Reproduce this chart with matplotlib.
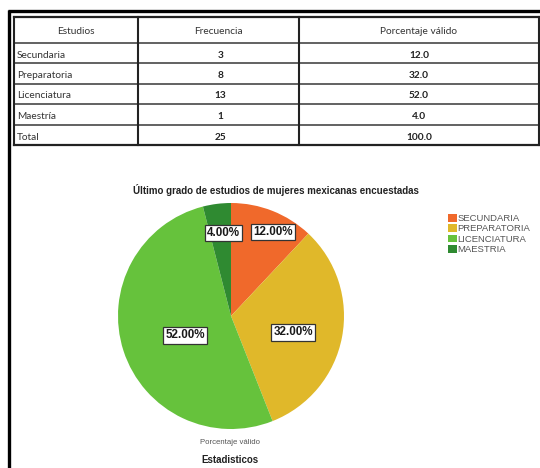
import matplotlib
matplotlib.use('Agg')
import matplotlib.pyplot as plt
import numpy as np

# datos de la tabla / grafica
estudios = ['Secundaria', 'Preparatoria', 'Licenciatura', 'Maestría']
frecuencia = [3, 8, 13, 1]
porcentaje = [12.0, 32.0, 52.0, 4.0]
total_frec = 25
total_pct = 100.0
leyenda = ['SECUNDARIA', 'PREPARATORIA', 'LICENCIATURA', 'MAESTRIA']
colores = ['#f0692b', '#e0b82a', '#66c23c', '#2f8a31']

titulo = 'Último grado de estudios de mujeres mexicanas encuestadas'

W, H = 540, 468
fig = plt.figure(figsize=(W / 100, H / 100), dpi=100)
fig.patch.set_facecolor('white')

# capa de fondo en pixeles
bg = fig.add_axes([0, 0, 1, 1])
bg.set_xlim(0, W)
bg.set_ylim(H, 0)
bg.axis('off')

# marco exterior
bg.plot([8.5, 8.5], [10, H], color='black', lw=2.4, solid_capstyle='butt')
bg.plot([7.5, W], [11, 11], color='black', lw=2.4, solid_capstyle='butt')

# tabla
x0, x1, x2, x3 = 14, 138, 299, 539
ys = [17, 43, 63, 84, 104, 125, 145]
for y in ys[1:-1]:
    bg.plot([x0, x3], [y, y], color='#555555', lw=1.3)
bg.plot([x0, x3], [ys[0], ys[0]], color='#222222', lw=1.6)
bg.plot([x0, x3], [ys[-1], ys[-1]], color='#222222', lw=1.6)
for x in [x0, x1, x2, x3]:
    bg.plot([x, x], [ys[0], ys[-1]], color='#222222', lw=1.5)

tfont = 'Lato'
tcol = '#333333'
fs = 7.3
bg.text((x0 + x1) / 2, (ys[0] + ys[1]) / 2 + 2, 'Estudios', ha='center', va='center',
        fontsize=fs, family=tfont, color=tcol)
bg.text((x1 + x2) / 2, (ys[0] + ys[1]) / 2 + 2, 'Frecuencia', ha='center', va='center',
        fontsize=fs, family=tfont, color=tcol)
bg.text((x2 + x3) / 2, (ys[0] + ys[1]) / 2 + 2, 'Porcentaje válido', ha='center', va='center',
        fontsize=fs, family=tfont, color=tcol)

filas = list(zip(estudios, frecuencia, porcentaje)) + [('Total', total_frec, total_pct)]
for i, (e, f, p) in enumerate(filas):
    yc = (ys[i + 1] + ys[i + 2]) / 2 + 2
    bg.text(x0 + 3, yc, e, ha='left', va='center', fontsize=fs, family=tfont, color=tcol)
    bg.text((x1 + x2) / 2 + 2, yc, str(f), ha='center', va='center', fontsize=fs,
            family=tfont, color='#222222', fontweight='bold')
    bg.text((x2 + x3) / 2, yc, '%.1f' % p, ha='center', va='center', fontsize=fs,
            family=tfont, color='#222222', fontweight='bold')

# titulo y textos de la grafica
bg.text(276, 190, titulo, ha='center', va='center', fontsize=7.0,
        family='Liberation Sans', fontweight='bold', color='#222222')
bg.text(230, 443, 'Porcentaje válido', ha='center', va='center', fontsize=5.6,
        family='Liberation Sans', color='#555555')
bg.text(230, 460, 'Estadisticos', ha='center', va='center', fontsize=7.0,
        family='Liberation Sans', fontweight='bold', color='#222222')

# pastel
cx, cy, r = 231, 316, 113
pax = fig.add_axes([(cx - r) / W, (H - cy - r) / H, 2 * r / W, 2 * r / H])
wedges, _ = pax.pie(porcentaje, colors=colores, startangle=90, counterclock=False,
                    radius=1, wedgeprops=dict(linewidth=0))
pax.set_xlim(-1, 1)
pax.set_ylim(-1, 1)
pax.set_aspect('equal')
pax.axis('off')

dist = [0.83, 0.57, 0.44, 0.74]
giro = [-5, -4, 5, -2]
for w, p, d, g in zip(wedges, porcentaje, dist, giro):
    ang = np.deg2rad((w.theta1 + w.theta2) / 2 + g)
    pax.text(d * np.cos(ang), d * np.sin(ang), '%.2f%%' % p, ha='center', va='center',
             fontsize=8.4, family='Liberation Sans', fontweight='bold', color='#1a1a1a',
             bbox=dict(boxstyle='square,pad=0.18', facecolor='white', edgecolor='#333333', lw=0.9))

leg = fig.legend(wedges, leyenda, loc='upper left', bbox_to_anchor=(448 / W, 1 - 214 / H),
                 frameon=False, handlelength=0.9, handleheight=0.9,
                 handletextpad=0.12, labelspacing=0.12, borderpad=0, borderaxespad=0,
                 prop=dict(family='Liberation Sans', size=6.8))
for t in leg.get_texts():
    t.set_color('#555555')

fig.savefig('out.png', dpi=100, facecolor='white')
